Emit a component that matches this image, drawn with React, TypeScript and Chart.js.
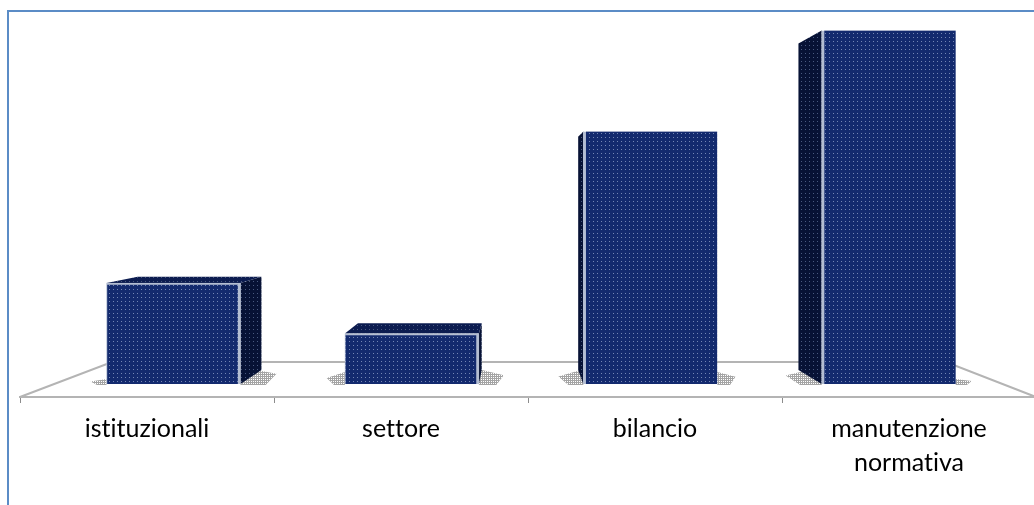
import { useEffect, useRef } from "react";
import { Chart, registerables } from "chart.js";

Chart.register(...registerables);

// Chart content
const categories = ["istituzionali", "settore", "bilancio", ["manutenzione", "normativa"]];
const barSlots = [0, 1, 2, 3];
const values = [2, 1, 5, 7];

// Perspective used to extrude the bars towards the back wall
const VANISH_X = 516;
const VANISH_Y = 200;
const DEPTH = 0.924;

const backPoint = (x: number, y: number): [number, number] => [
  VANISH_X + DEPTH * (x - VANISH_X),
  VANISH_Y + DEPTH * (y - VANISH_Y),
];

// Repeating tile: a solid colour with one pale dot
function dotted(base: string, dot: string, size = 4) {
  const tile = document.createElement("canvas");
  tile.width = size;
  tile.height = size;
  const c = tile.getContext("2d")!;
  c.fillStyle = base;
  c.fillRect(0, 0, size, size);
  c.fillStyle = dot;
  c.fillRect(1, 1, 1, 1);
  return c.createPattern(tile, "repeat")!;
}

function polygon(ctx: CanvasRenderingContext2D, pts: [number, number][], fill: any) {
  ctx.beginPath();
  pts.forEach(([x, y], i) => (i ? ctx.lineTo(x, y) : ctx.moveTo(x, y)));
  ctx.closePath();
  ctx.fillStyle = fill;
  ctx.fill();
}

// Floor outline, contact shadows and the side and top faces of each bar
const extrusion = {
  id: "extrusion",
  beforeDraw(chart: any) {
    // Plain glyph shaping for the axis labels, no ligatures
    chart.ctx.textRendering = "optimizeSpeed";
  },
  beforeDatasetsDraw(chart: any) {
    const { ctx, chartArea } = chart;
    const bottom = chartArea.bottom;
    const wallY = bottom - 35;

    ctx.save();
    ctx.strokeStyle = "#b4b4b4";
    ctx.lineWidth = 2;
    ctx.beginPath();
    ctx.moveTo(chartArea.left, bottom);
    ctx.lineTo(chartArea.left + 92, wallY);
    ctx.lineTo(chartArea.right - 90, wallY);
    ctx.lineTo(chartArea.right, bottom);
    ctx.stroke();

    const shadow = chart.$shadow;
    const sideFill = chart.$side;
    const topFill = chart.$top;
    const bars = chart.getDatasetMeta(0).data;
    const firstX = bars[0].x;
    const lastX = bars[bars.length - 1].x;

    bars.forEach((bar: any) => {
      const left = bar.x - bar.width / 2;
      const right = bar.x + bar.width / 2;
      const { y: top, base } = bar;

      // Shadows stretch on the side facing away from the vanishing point
      const u = (bar.x - firstX) / (lastX - firstX);
      const leftW = 16 + 20 * u * u;
      const leftH = 5 + 12 * Math.sqrt(u);
      const rightW = 16 + 20 * (1 - u) * (1 - u);
      const rightH = 5 + 12 * Math.sqrt(1 - u);
      polygon(ctx, [[left - leftW, base - leftH * 0.5], [left, base - leftH], [left, base + 1], [left - leftW * 0.6, base + 1]], shadow);
      polygon(ctx, [[right, base - rightH], [right + rightW, base - rightH * 0.6], [right + rightW * 0.7, base + 1], [right, base + 1]], shadow);

      const useRight = right < VANISH_X;
      const edge = useRight ? right : left;
      const [backEdgeTopX, backEdgeTopY] = backPoint(edge, top);
      const [backEdgeBaseX, backEdgeBaseY] = backPoint(edge, base);
      polygon(ctx, [[edge, top], [backEdgeTopX, backEdgeTopY], [backEdgeBaseX, backEdgeBaseY], [edge, base]], sideFill);

      if (top > VANISH_Y) {
        const a = backPoint(left, top);
        const b = backPoint(right, top);
        polygon(ctx, [[left, top], a, b, [right, top]], topFill);
      }
    });
    ctx.restore();
  },
};

export default function App() {
  const ref = useRef<HTMLCanvasElement>(null);

  useEffect(() => {
    document.body.style.margin = "0";
    const chart: any = new Chart(ref.current!, {
      type: "bar",
      data: {
        labels: categories as any,
        datasets: [
          {
            data: barSlots.map((x, i) => ({ x, y: values[i] })) as any,
            xAxisID: "slots",
            backgroundColor: dotted("#132a6e", "#7486b4"),
            borderColor: "#b4bed2",
            // The lit edge is the one that meets the visible side face
            borderWidth: (c: any) =>
              c.dataIndex < 2
                ? { left: 1, right: 3, top: 2, bottom: 0 }
                : { left: 3, right: 0, top: 0, bottom: 0 },
            barThickness: 134,
          },
        ],
      },
      options: {
        responsive: false,
        animation: false,
        events: [],
        layout: { padding: { left: 20, right: 4, top: 20, bottom: 0 } },
        plugins: { legend: { display: false }, tooltip: { enabled: false } },
        scales: {
          x: {
            type: "category",
            position: "bottom",
            offset: true,
            afterFit: (s: any) => {
              s.height = 108;
            },
            border: { color: "#b4b4b4", width: 2 },
            grid: { offset: true, drawOnChartArea: false, color: "#8c8c8c", tickLength: 6 },
            ticks: {
              color: "#000000",
              maxRotation: 0,
              autoSkip: false,
              padding: 9,
              font: { family: "Lato", size: 25, lineHeight: 1.36 },
            },
          },
          slots: { type: "linear", display: false, offset: false, min: -0.644, max: 3.618 },
          y: { display: false, min: -0.257, max: 7.208 },
        },
      },
      plugins: [extrusion],
    });
    chart.$shadow = dotted("#a4a4a4", "#ffffff", 2);
    chart.$side = dotted("#071235", "#4a5a80");
    chart.$top = dotted("#0c1c50", "#4a5a80");
    chart.update();
    return () => chart.destroy();
  }, []);

  return (
    <div style={{ position: "relative", width: 1034, height: 505, overflow: "hidden", background: "#fff" }}>
      <div
        style={{
          position: "absolute",
          left: 7,
          top: 10,
          right: 0,
          bottom: 0,
          borderLeft: "2px solid #5b8cc6",
          borderTop: "2px solid #5b8cc6",
        }}
      />
      <canvas ref={ref} width={1040} height={505} style={{ position: "absolute", left: 0, top: 0 }} />
    </div>
  );
}
